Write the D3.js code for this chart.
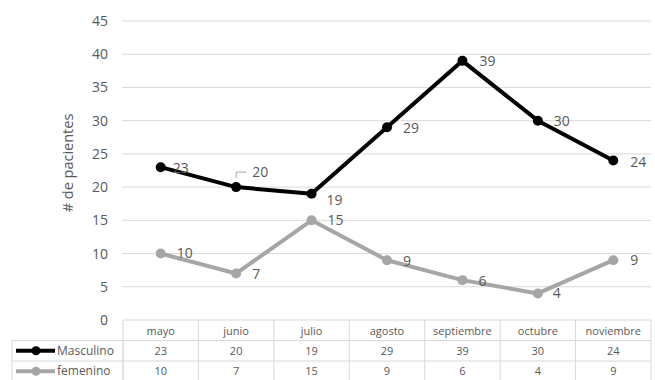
<!DOCTYPE html>
<html><head><meta charset="utf-8">
<script src="https://cdn.jsdelivr.net/npm/d3@7"></script>
<style>body{margin:0;background:#fff}svg{display:block}text{font-family:"Open Sans","Noto Sans",sans-serif}</style>
</head><body><svg id="c" width="655" height="380"></svg>
<script>
const months = ["mayo","junio","julio","agosto","septiembre","octubre","noviembre"];
const masculino = [23,20,19,29,39,30,24];
const femenino = [10,7,15,9,6,4,9];
const yTicks = [0,5,10,15,20,25,30,35,40,45];
const seriesNames = ["Masculino","femenino"];
const seriesColors = ["#000000","#a6a6a6"];

const svg = d3.select("#c");
const x = d3.scaleBand().domain(months).range([123, 651]);
const y = d3.scaleLinear().domain([0,45]).range([320, 21]);
const cx = m => x(m) + x.bandwidth()/2;
const txt = "#595959";

// gridlines
svg.append("g").selectAll("line").data(yTicks.filter(d=>d>0)).join("line")
  .attr("x1",122).attr("x2",651).attr("y1",d=>y(d)).attr("y2",d=>y(d))
  .attr("stroke","#d9d9d9").attr("stroke-width",1);

// y axis labels
const yAxis = d3.axisLeft(y).tickValues(yTicks).tickSize(0).tickPadding(0);
const ga = svg.append("g").attr("transform","translate(108,0)").call(yAxis);
ga.select(".domain").remove();
ga.selectAll("text").attr("fill",txt).style("font-size","14px").attr("font-family","'Open Sans',sans-serif");

svg.append("text").attr("transform","translate(73,163) rotate(-90)")
  .attr("text-anchor","middle").attr("fill",txt).style("font-size","14.5px").text("# de pacientes");

// lines
const series = [masculino, femenino];
const line = d3.line().x((d,i)=>cx(months[i])).y(d=>y(d));
series.forEach((s,k)=>{
  svg.append("path").datum(s).attr("d",line).attr("fill","none")
    .attr("stroke",seriesColors[k]).attr("stroke-width",4).attr("stroke-linejoin","round");
  svg.append("g").selectAll("circle").data(s).join("circle")
    .attr("cx",(d,i)=>cx(months[i])).attr("cy",d=>y(d)).attr("r",5).attr("fill",seriesColors[k]);
});

// data labels
const mOff = [[12,1],[16,-15],[15,6],[16,1],[17,0],[16,0],[17,2]];
const fOff = [[16,0],[16,1],[16,0],[16,1],[16,1],[15,0],[17,0]];
svg.append("g").selectAll("text").data(masculino).join("text")
  .attr("x",(d,i)=>cx(months[i])+mOff[i][0]).attr("y",(d,i)=>y(d)+mOff[i][1])
  .attr("dy","0.35em").attr("fill",txt).style("font-size","14px").text(d=>d);
svg.append("g").selectAll("text").data(femenino).join("text")
  .attr("x",(d,i)=>cx(months[i])+fOff[i][0]).attr("y",(d,i)=>y(d)+fOff[i][1])
  .attr("dy","0.35em").attr("fill",txt).style("font-size","14px").text(d=>d);
// leader line for junio label
const jx = cx("junio"), jy = y(masculino[1]);
svg.append("path").attr("d",`M${jx},${jy-9}V${jy-15}H${jx+10}`)
  .attr("fill","none").attr("stroke","#a6a6a6").attr("stroke-width",1);

// data table
const tb = svg.append("g");
const rowH = 20.5, tTop = 320, legX = 12;
const border = "#d9d9d9";
tb.append("rect").attr("x",123).attr("y",tTop).attr("width",528).attr("height",rowH*3+5)
  .attr("fill","none").attr("stroke",border);
tb.append("rect").attr("x",legX).attr("y",tTop+rowH).attr("width",123-legX).attr("height",rowH*2+5)
  .attr("fill","none").attr("stroke",border);
[1,2].forEach(r=>tb.append("line").attr("x1",legX).attr("x2",651)
  .attr("y1",tTop+rowH*r).attr("y2",tTop+rowH*r).attr("stroke",border));
months.forEach((m,i)=>{ if(i>0) tb.append("line").attr("x1",x(m)).attr("x2",x(m))
  .attr("y1",tTop).attr("y2",380).attr("stroke",border); });
tb.selectAll("text.h").data(months).join("text").attr("class","h")
  .attr("x",d=>cx(d)).attr("y",tTop+rowH/2+1).attr("dy","0.35em").attr("text-anchor","middle")
  .attr("fill",txt).style("font-size","11px").text(d=>d);
series.forEach((s,k)=>{
  const ry = tTop+rowH*(k+1)+rowH/2;
  tb.append("g").selectAll("text").data(s).join("text")
    .attr("x",(d,i)=>cx(months[i])).attr("y",ry).attr("dy","0.35em").attr("text-anchor","middle")
    .attr("fill",txt).style("font-size","11px").text(d=>d);
  tb.append("line").attr("x1",16).attr("x2",55).attr("y1",ry).attr("y2",ry)
    .attr("stroke",seriesColors[k]).attr("stroke-width",4);
  tb.append("circle").attr("cx",36).attr("cy",ry).attr("r",4.5).attr("fill",seriesColors[k]);
  tb.append("text").attr("x",57).attr("y",ry).attr("dy","0.35em")
    .attr("fill",txt).style("font-size","12px").text(seriesNames[k]);
});
</script></body></html>
